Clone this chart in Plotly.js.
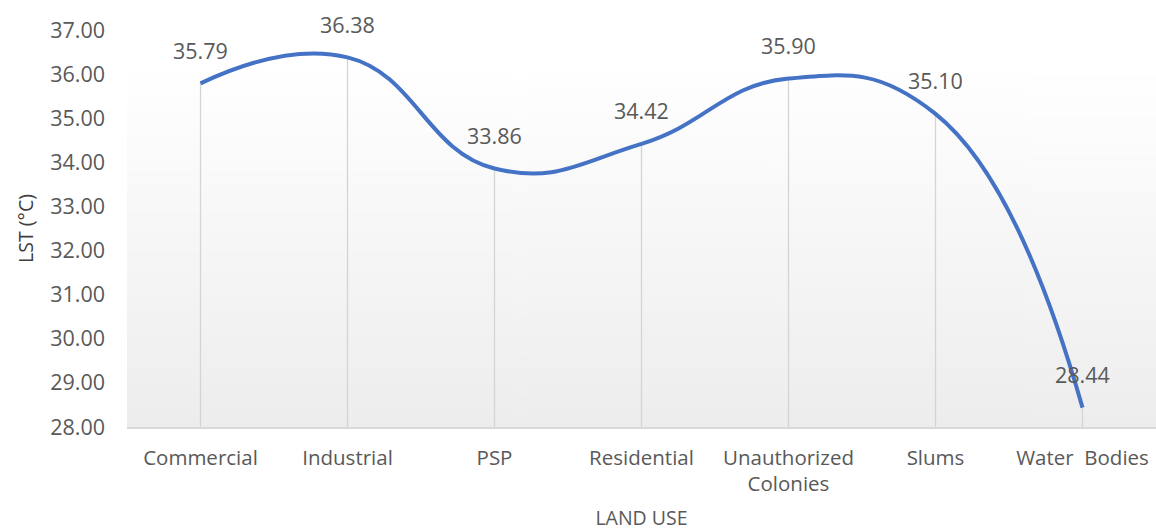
<!DOCTYPE html>
<html>
<head>
<meta charset="utf-8">
<script src="https://cdn.plot.ly/plotly-3.0.1.min.js"></script>
<style>html,body{margin:0;padding:0;background:#fff;}#chart{width:1156px;height:532px;}</style>
</head>
<body>
<div id="chart"></div>
<script>
const categories = ["Commercial", "Industrial", "PSP", "Residential", "Unauthorized<br>Colonies", "Slums", "Water\u00a0 Bodies"];
const lstValues = [35.79, 36.38, 33.86, 34.42, 35.90, 35.10, 28.44];
const yTickVals = [28, 29, 30, 31, 32, 33, 34, 35, 36, 37];
const yTickText = yTickVals.map(v => v.toFixed(2));
const yBase = 28;

// gradient background for plot area
const cv = document.createElement('canvas');
cv.width = 4; cv.height = 400;
const ctx = cv.getContext('2d');
const g = ctx.createLinearGradient(0, 0, 0, 400);
g.addColorStop(0, '#ffffff');
g.addColorStop(0.1, '#ffffff');
g.addColorStop(1, '#ededed');
ctx.fillStyle = g;
ctx.fillRect(0, 0, 4, 400);
const bgURL = cv.toDataURL('image/png');

const font = "'Open Sans', 'Noto Sans', sans-serif";

const dropTrace = {
  x: categories,
  y: lstValues,
  type: 'scatter',
  mode: 'markers',
  marker: {size: 1, color: 'rgba(0,0,0,0)'},
  error_y: {
    type: 'data', symmetric: false,
    array: lstValues.map(() => 0),
    arrayminus: lstValues.map(v => v - yBase),
    color: '#d4d4d4', thickness: 1.3, width: 0
  },
  hoverinfo: 'skip', showlegend: false
};

const lineTrace = {
  x: categories,
  y: lstValues,
  type: 'scatter',
  mode: 'lines',
  line: {shape: 'spline', smoothing: 1.3, color: '#4472C4', width: 4},
  showlegend: false
};

const annotations = categories.map((c, i) => ({
  x: c, y: lstValues[i], xref: 'x', yref: 'y',
  text: lstValues[i].toFixed(2), showarrow: false,
  yshift: 33, font: {family: font, size: 21.5, color: '#595959'}
}));

const layout = {
  width: 1156, height: 532,
  margin: {l: 127, r: 0, t: 30, b: 105},
  paper_bgcolor: '#ffffff',
  plot_bgcolor: 'rgba(0,0,0,0)',
  showlegend: false,
  images: [{source: bgURL, xref: 'paper', yref: 'paper', x: 0, y: 1, sizex: 1, sizey: 1,
            xanchor: 'left', yanchor: 'top', sizing: 'stretch', layer: 'below'}],
  xaxis: {
    type: 'category', range: [-0.5, 6.5], showgrid: false, zeroline: false,
    showline: true, linecolor: '#d9d9d9', linewidth: 2,
    ticks: '', ticklabelstandoff: 11,
    tickfont: {family: font, size: 20.5, color: '#595959'},
    title: {text: 'LAND USE', font: {family: font, size: 19.5, color: '#595959'}, standoff: 15}
  },
  yaxis: {
    range: [28, 37], tickvals: yTickVals, ticktext: yTickText,
    showgrid: false, zeroline: false, showline: false, ticks: '',
    ticklabelstandoff: 21,
    tickfont: {family: font, size: 21.5, color: '#595959'},
    title: {text: 'LST (°C)', font: {family: font, size: 19.5, color: '#404040'}, standoff: 11}
  },
  annotations: annotations
};

Plotly.newPlot('chart', [dropTrace, lineTrace], layout, {displayModeBar: false, staticPlot: true});
</script>
</body>
</html>
